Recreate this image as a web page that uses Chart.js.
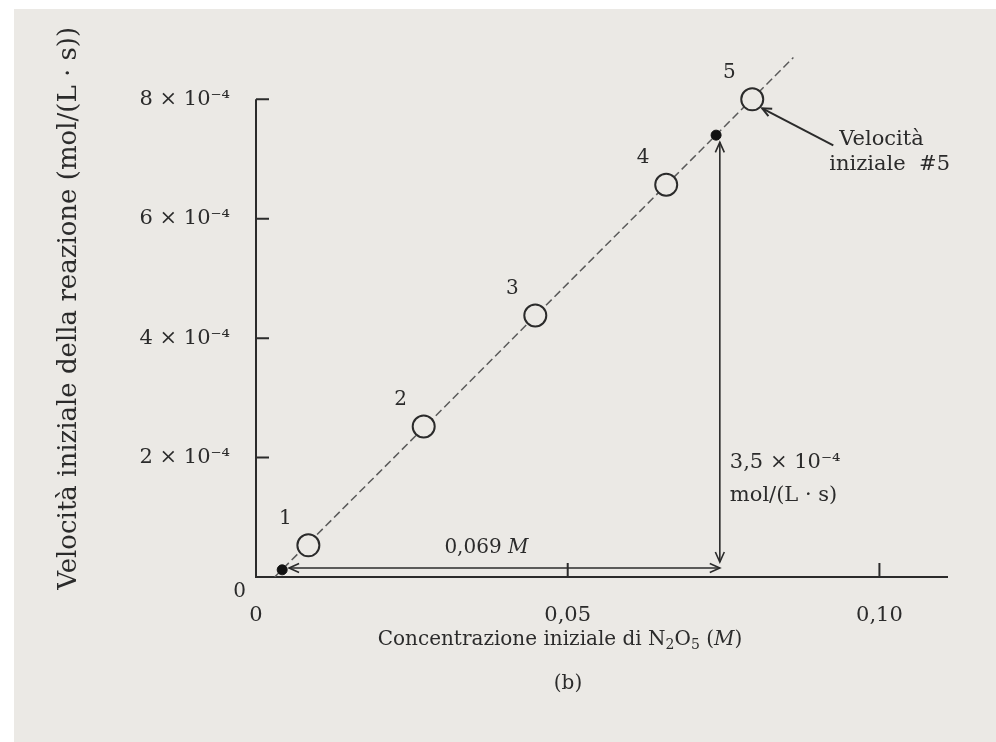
<!DOCTYPE html>
<html>
<head>
<meta charset="utf-8">
<title>Velocità iniziale vs concentrazione di N2O5</title>
<script src="https://cdn.jsdelivr.net/npm/chart.js@4.4.1/dist/chart.umd.min.js"></script>
<style>
  html, body { margin: 0; background: #fff; }
  #wrap { position: absolute; left: 14px; top: 9px; width: 982px; height: 733px; background: #ebe9e5; }
</style>
</head>
<body>
<div id="wrap"><canvas id="rateChart" width="982" height="733"></canvas></div>
<script>
// runs 1..5: initial [N2O5] (M) and initial rate (mol/(L·s))
const runLabels = ["1", "2", "3", "4", "5"];
const concentrations = [0.0084, 0.0269, 0.0448, 0.0658, 0.0796];
const rates = [0.53e-4, 2.52e-4, 4.38e-4, 6.57e-4, 8.0e-4];

// the two black dots used to read the slope
const slopeX = [0.0042, 0.0738];
const slopeY = [0.12e-4, 7.4e-4];

// straight line through the runs
const fitX = [0.003, 0.0862];
const fitY = [0, 8.7e-4];

// axis ticks
const xTicks = [0, 0.05, 0.10];
const xTickLabels = ["0", "0,05", "0,10"];
const yTicks = [0, 2e-4, 4e-4, 6e-4, 8e-4];
const yTickLabels = ["", "2 × 10⁻⁴", "4 × 10⁻⁴", "6 × 10⁻⁴", "8 × 10⁻⁴"];

// arrows for Δ[N2O5] and Δrate (data units)
const deltaX = [0.0053, 0.0744];
const deltaXAt = 0.15e-4;
const deltaY = [7.28e-4, 0.25e-4];
const deltaYAt = 0.0744;
const deltaXText = "0,069";
const deltaYText = ["3,5 × 10⁻⁴", "mol/(L · s)"];

// pointer to run 5
const pointerX = [0.0926, 0.0812];
const pointerY = [7.23e-4, 7.85e-4];
const pointerText = ["Velocità", "iniziale  #5"];

const bg = "#ebe9e5";
const ink = "#2b2b2b";
const serif = "'DejaVu Serif', 'Liberation Serif', serif";

function arrowHead(ctx, fx, fy, tx, ty, len) {
  const a = Math.atan2(ty - fy, tx - fx);
  ctx.beginPath();
  ctx.moveTo(tx - len * Math.cos(a - 0.42), ty - len * Math.sin(a - 0.42));
  ctx.lineTo(tx, ty);
  ctx.lineTo(tx - len * Math.cos(a + 0.42), ty - len * Math.sin(a + 0.42));
  ctx.stroke();
}

// draws text made of pieces: [text, kind] kind = "n" | "i" | "sub"
function richText(ctx, parts, x, y, size, align) {
  const fontOf = k => k === "i" ? `italic ${size}px ${serif}`
    : k === "sub" ? `${Math.round(size * 0.7)}px ${serif}` : `${size}px ${serif}`;
  let w = 0;
  parts.forEach(p => { ctx.font = fontOf(p[1]); w += ctx.measureText(p[0]).width; });
  let cx = align === "center" ? x - w / 2 : x;
  ctx.textAlign = "left";
  ctx.textBaseline = "middle";
  parts.forEach(p => {
    ctx.font = fontOf(p[1]);
    ctx.fillText(p[0], cx, p[1] === "sub" ? y + size * 0.25 : y);
    cx += ctx.measureText(p[0]).width;
  });
}

const notes = {
  id: "notes",
  beforeDatasetsDraw(chart) {
    const { ctx, scales: { x, y } } = chart;
    const x0 = x.getPixelForValue(0);
    const y0 = y.getPixelForValue(0);
    ctx.save();
    ctx.strokeStyle = ink;
    ctx.lineWidth = 2;
    ctx.beginPath();
    ctx.moveTo(x0, y.getPixelForValue(yTicks[yTicks.length - 1]));
    ctx.lineTo(x0, y0);
    ctx.lineTo(x.getPixelForValue(x.max), y0);
    yTicks.slice(1).forEach(v => {
      const py = y.getPixelForValue(v);
      ctx.moveTo(x0, py);
      ctx.lineTo(x0 + 13, py);
    });
    xTicks.slice(1).forEach(v => {
      const px = x.getPixelForValue(v);
      ctx.moveTo(px, y0);
      ctx.lineTo(px, y0 - 14);
    });
    ctx.stroke();
    // the y zero sits a little below the corner
    ctx.fillStyle = ink;
    ctx.font = `20px ${serif}`;
    ctx.textAlign = "right";
    ctx.textBaseline = "middle";
    ctx.fillText("0", x0 - 10, y0 + 15);
    ctx.restore();
  },
  afterDatasetsDraw(chart) {
    const { ctx, scales: { x, y }, chartArea } = chart;
    ctx.save();
    ctx.strokeStyle = ink;
    ctx.fillStyle = ink;
    ctx.lineWidth = 1.6;

    // horizontal arrow
    const hy = y.getPixelForValue(deltaXAt);
    const hx1 = x.getPixelForValue(deltaX[0]);
    const hx2 = x.getPixelForValue(deltaX[1]);
    ctx.beginPath();
    ctx.moveTo(hx1, hy);
    ctx.lineTo(hx2, hy);
    ctx.stroke();
    arrowHead(ctx, hx2, hy, hx1, hy, 11);
    arrowHead(ctx, hx1, hy, hx2, hy, 11);

    // vertical arrow
    const vx = x.getPixelForValue(deltaYAt);
    const vy1 = y.getPixelForValue(deltaY[0]);
    const vy2 = y.getPixelForValue(deltaY[1]);
    ctx.beginPath();
    ctx.moveTo(vx, vy1);
    ctx.lineTo(vx, vy2);
    ctx.stroke();
    arrowHead(ctx, vx, vy2, vx, vy1, 11);
    arrowHead(ctx, vx, vy1, vx, vy2, 11);

    // pointer to run 5
    const px1 = x.getPixelForValue(pointerX[0]);
    const py1 = y.getPixelForValue(pointerY[0]);
    const px2 = x.getPixelForValue(pointerX[1]);
    const py2 = y.getPixelForValue(pointerY[1]);
    ctx.lineWidth = 2;
    ctx.beginPath();
    ctx.moveTo(px1, py1);
    ctx.lineTo(px2, py2);
    ctx.stroke();
    arrowHead(ctx, px1, py1, px2, py2, 10);

    // run numbers
    ctx.font = `20px ${serif}`;
    ctx.textAlign = "center";
    ctx.textBaseline = "middle";
    chart.getDatasetMeta(0).data.forEach((pt, i) => {
      ctx.fillText(runLabels[i], pt.x - 23, pt.y - 27);
    });

    // delta labels
    richText(ctx, [[deltaXText + " ", "n"], ["M", "i"]],
      x.getPixelForValue((deltaX[0] + deltaX[1]) / 2) - 18, hy - 20, 20, "center");
    ctx.font = `21px ${serif}`;
    ctx.textAlign = "left";
    ctx.fillText(deltaYText[0], vx + 10, y.getPixelForValue(1.92e-4));
    ctx.fillText(deltaYText[1], vx + 10, y.getPixelForValue(1.37e-4));
    ctx.fillText(pointerText[0], px1 + 6, py1 - 6);
    ctx.fillText(pointerText[1], px1 - 4, py1 + 19);

    // x axis title and caption
    const tx = chartArea.left + 304;
    richText(ctx, [["Concentrazione iniziale di N", "n"], ["2", "sub"], ["O", "n"],
      ["5", "sub"], [" (", "n"], ["M", "i"], [")", "n"]], tx, chartArea.bottom + 63, 20, "center");
    richText(ctx, [["(b)", "n"]], tx + 8, chartArea.bottom + 107, 20, "center");
    ctx.restore();
  }
};

new Chart(document.getElementById("rateChart"), {
  type: "scatter",
  data: {
    datasets: [
      {
        label: "Velocità iniziale",
        data: concentrations.map((c, i) => ({ x: c, y: rates[i] })),
        pointRadius: 11,
        pointBorderWidth: 2,
        borderColor: ink,
        backgroundColor: bg,
        order: 1
      },
      {
        label: "lettura pendenza",
        data: slopeX.map((c, i) => ({ x: c, y: slopeY[i] })),
        pointRadius: 5,
        borderColor: "#111",
        backgroundColor: "#111",
        order: 2
      },
      {
        type: "line",
        label: "retta",
        data: fitX.map((c, i) => ({ x: c, y: fitY[i] })),
        borderColor: "#5a5a5a",
        borderWidth: 1.5,
        borderDash: [8, 4],
        pointRadius: 0,
        order: 3
      }
    ]
  },
  options: {
    responsive: false,
    animation: false,
    layout: { padding: { left: 0, top: 28, right: 48, bottom: 0 } },
    plugins: { legend: { display: false }, tooltip: { enabled: false } },
    scales: {
      x: {
        type: "linear",
        min: 0,
        max: 0.111,
        grid: { display: false },
        border: { display: false },
        afterBuildTicks: s => { s.ticks = xTicks.map(v => ({ value: v })); },
        afterFit: s => { s.height = 165; },
        ticks: {
          autoSkip: false,
          maxRotation: 0,
          padding: 18,
          color: ink,
          font: { family: serif, size: 21 },
          callback: (v, i) => xTickLabels[i]
        }
      },
      y: {
        type: "linear",
        min: 0,
        max: 0.0009,
        grid: { display: false },
        border: { display: false },
        afterBuildTicks: s => { s.ticks = yTicks.map(v => ({ value: v })); },
        afterFit: s => { s.width = 242; },
        ticks: {
          autoSkip: false,
          padding: 18,
          color: ink,
          font: { family: serif, size: 21 },
          callback: (v, i) => yTickLabels[i]
        },
        title: {
          display: true,
          text: "Velocità iniziale della reazione (mol/(L · s))",
          color: ink,
          font: { family: serif, size: 26 },
          padding: { top: 40, bottom: 0 }
        }
      }
    }
  },
  plugins: [notes]
});
</script>
</body>
</html>
